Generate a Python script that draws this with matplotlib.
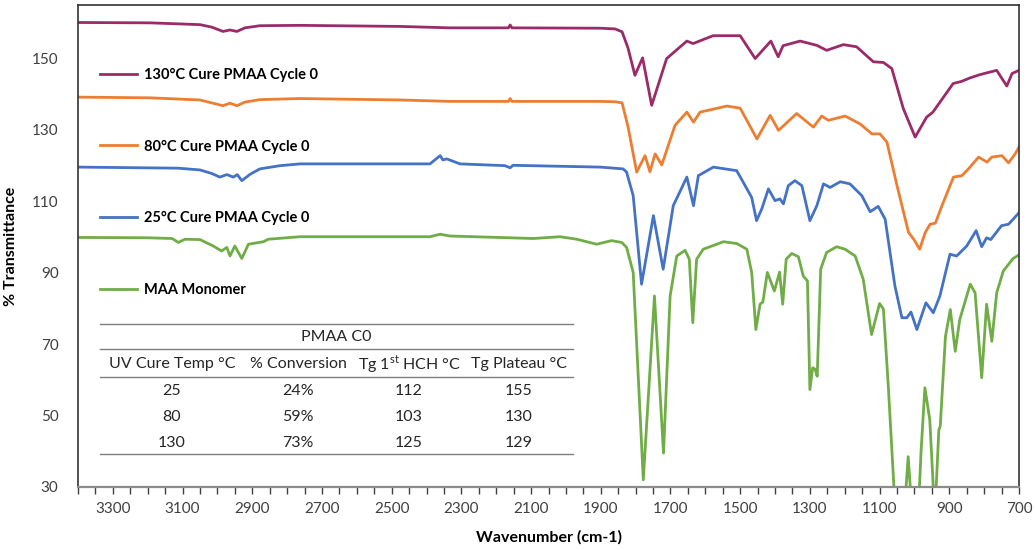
import matplotlib
matplotlib.use("Agg")
import matplotlib.pyplot as plt
from matplotlib.ticker import MultipleLocator, FixedLocator

plt.rcParams['font.family'] = ['Lato', 'DejaVu Sans']
plt.rcParams['mathtext.fontset'] = 'custom'
plt.rcParams['mathtext.rm'] = 'Lato'

# ---------------- spectra (wavenumber, % transmittance, offset already included) ----------------
wn_130 = [3400, 3193, 3050, 3016, 2984, 2964, 2944, 2921, 2878, 2763, 2476, 2333, 2165, 2160, 2155,
          1902, 1859, 1839, 1822, 1802, 1780, 1754, 1711, 1653, 1635, 1578, 1500, 1457, 1412, 1391,
          1377, 1328, 1280, 1252, 1204, 1166, 1118, 1089, 1065, 1032, 998, 965, 947, 889, 865, 840,
          812, 764, 735, 720, 700]
t_130 = [160.1, 160.0, 159.5, 158.8, 157.6, 158.0, 157.6, 158.6, 159.2, 159.3, 159.0, 158.6, 158.6, 159.4, 158.6,
         158.5, 158.3, 157.5, 153.0, 145.3, 150.2, 136.9, 150.0, 154.9, 154.2, 156.4, 156.4, 150.0, 154.9, 150.5,
         153.6, 154.9, 153.7, 152.3, 153.9, 153.3, 149.1, 148.9, 147.2, 136.0, 128.0, 133.6, 135.0, 143.0, 143.6, 144.6,
         145.5, 146.7, 142.3, 145.8, 146.7]

wn_80 = [3400, 3193, 3050, 2984, 2964, 2944, 2921, 2878, 2763, 2476, 2333, 2165, 2160, 2155,
         1902, 1859, 1839, 1822, 1797, 1773, 1759, 1744, 1725, 1687, 1653, 1634, 1615, 1538, 1500,
         1452, 1414, 1390, 1338, 1290, 1266, 1247, 1199, 1156, 1122, 1099, 1079, 1050, 1017, 1002,
         985, 969, 955, 940, 921, 888, 864, 845, 816, 792, 778, 749, 730, 711, 700]
t_80 = [139.2, 139.0, 138.4, 136.8, 137.5, 136.8, 137.8, 138.5, 138.8, 138.4, 138.0, 138.0, 138.8, 138.0,
        138.0, 137.9, 137.6, 131.0, 118.2, 122.8, 118.3, 123.3, 120.2, 131.3, 135.0, 132.2, 135.0, 136.7, 136.1,
        127.5, 134.1, 129.9, 134.6, 130.8, 133.9, 132.7, 133.9, 131.7, 128.9, 128.9, 126.6, 114.4, 101.3, 99.4,
        96.6, 101.3, 103.6, 103.9, 108.8, 116.8, 117.2, 119.1, 122.4, 121.0, 122.4, 122.8, 120.8, 123.3, 125.2]

wn_25 = [3400, 3113, 3050, 3016, 2993, 2973, 2954, 2943, 2930, 2906, 2878, 2820, 2763, 2390, 2361, 2353,
         2342, 2304, 2175, 2160, 2152, 1902, 1836, 1826, 1807, 1783, 1749, 1721, 1692, 1653, 1634, 1620,
         1577, 1510, 1491, 1467, 1453, 1438, 1419, 1400, 1386, 1376, 1362, 1343, 1323, 1300, 1280, 1261,
         1242, 1213, 1185, 1151, 1127, 1104, 1084, 1056, 1036, 1022, 1010, 993, 967, 946, 927, 898, 879,
         850, 823, 807, 793, 781, 750, 730, 700]
t_25 = [119.6, 119.3, 118.8, 117.8, 116.8, 117.5, 116.8, 117.5, 115.8, 117.6, 119.1, 120.0, 120.5, 120.5, 122.8, 121.6,
        121.9, 120.5, 120.0, 119.4, 120.1, 119.6, 119.1, 118.2, 111.6, 86.8, 106.0, 91.0, 108.8, 116.8, 108.8, 117.2,
        119.6, 118.6, 115.3, 111.1, 104.6, 107.9, 113.5, 110.2, 110.7, 109.3, 114.4, 115.8, 114.4, 104.6, 108.8, 114.9,
        113.9, 115.5, 114.9, 111.6, 107.1, 108.6, 105.0, 86.3, 77.4, 77.4, 79.0, 74.1, 81.6, 78.8, 83.5, 95.2, 94.7,
        97.5, 101.8, 97.3, 99.8, 99.3, 103.2, 103.6, 106.8]

wn_maa = [3400, 3200, 3130, 3112, 3093, 3050, 3012, 2988, 2973, 2964, 2950, 2930, 2911, 2868, 2854, 2763,
          2390, 2361, 2333, 2093, 2017, 1969, 1912, 1869, 1840, 1826, 1807, 1778, 1746, 1720, 1701, 1682,
          1658, 1646, 1636, 1625, 1606, 1548, 1510, 1481, 1467, 1455, 1443, 1435, 1422, 1402, 1387, 1378,
          1368, 1352, 1333, 1319, 1307, 1300, 1292, 1285, 1279, 1269, 1252, 1223, 1199, 1170, 1147, 1123,
          1100, 1089, 1075, 1056, 1045, 1032, 1024, 1018, 1012, 1000, 988, 981, 970, 956, 946, 940, 930,
          926, 911, 897, 883, 870, 840, 826, 807, 793, 778, 764, 745, 717, 700]
t_maa = [99.9, 99.8, 99.6, 98.5, 99.4, 99.3, 97.5, 96.1, 97.1, 94.7, 97.5, 94.0, 98.0, 98.7, 99.4, 100.1,
         100.1, 100.8, 100.3, 99.6, 100.1, 99.4, 98.0, 99.0, 98.5, 97.1, 90.1, 32.0, 83.5, 39.5, 83.5, 94.7,
         96.3, 93.8, 76.0, 93.8, 96.6, 98.7, 98.2, 96.6, 90.1, 74.1, 81.2, 81.8, 90.1, 84.9, 90.2, 81.2,
         93.8, 95.4, 94.5, 89.1, 87.7, 57.3, 63.4, 63.0, 61.0, 91.0, 95.7, 97.3, 96.6, 94.7, 88.2, 72.7,
         81.4, 79.8, 58.2, 25.0, 15.0, 24.0, 30.0, 38.5, 30.0, 15.0, 25.0, 40.0, 57.8, 48.8, 30.0, 25.0, 46.0,
         47.0, 72.2, 79.7, 68.0, 76.9, 86.8, 84.4, 60.6, 81.2, 70.8, 84.4, 90.5, 94.0, 95.0]

labels = ['130°C Cure PMAA Cycle 0', '80°C Cure PMAA Cycle 0', '25°C Cure PMAA Cycle 0', 'MAA Monomer']
colors = ['#9B2B68', '#ED7D31', '#4472C4', '#70AD47']

# ---------------- summary table ----------------
table_title = 'PMAA C0'
table_header = ['UV Cure Temp °C', '% Conversion', r'Tg 1$^{\mathrm{st}}$ HCH °C', 'Tg Plateau °C']
table_rows = [['25', '24%', '112', '155'],
              ['80', '59%', '103', '130'],
              ['130', '73%', '125', '129']]

W, H = 1035, 550
fig = plt.figure(figsize=(W / 100, H / 100), dpi=100)
ax = fig.add_axes([78 / W, 1 - 487 / H, (1019 - 78) / W, (487 - 5) / H])

series = [(wn_130, t_130), (wn_80, t_80), (wn_25, t_25), (wn_maa, t_maa)]
for (x, y), lab, c in zip(series, labels, colors):
    ax.plot(x, y, color=c, lw=2.0, label=lab, solid_joinstyle='round')

ax.set_xlim(3400, 700)
ax.set_ylim(30, 165)
ax.xaxis.set_major_locator(FixedLocator(list(range(3300, 699, -200))))
ax.xaxis.set_minor_locator(MultipleLocator(50))
ax.yaxis.set_major_locator(FixedLocator(list(range(30, 166, 20))))
ax.tick_params(axis='x', which='both', direction='out', length=5, width=1, color='#404040',
               labelsize=11, labelcolor='#404040', pad=6)
ax.tick_params(axis='y', length=0, labelsize=11, labelcolor='#404040', pad=14)
for s in ax.spines.values():
    s.set_color('#333333')
    s.set_linewidth(1.2)
ax.spines['bottom'].set_color('#8c8c8c')
ax.spines['bottom'].set_linewidth(1.6)

ax.set_xlabel('Wavenumber (cm-1)', fontsize=11.5, fontweight='bold', labelpad=10)
ax.set_ylabel('% Transmittance', fontsize=11.5, fontweight='bold')
ax.yaxis.set_label_coords(-0.064, 0.5)

ax.legend(loc='upper left', bbox_to_anchor=(0.016, 0.885), frameon=False,
          prop={'weight': 'bold', 'size': 10.5}, labelspacing=3.95,
          handlelength=2.5, handletextpad=0.5, borderpad=0)

# table drawn in pixel positions of the figure
def px(x, y):
    return x / W, 1 - y / H

rule_x = [100 / W, 573 / W]
for yy in [324, 349, 377, 454]:
    fig.add_artist(plt.Line2D(rule_x, [1 - yy / H] * 2, color='#7f7f7f', lw=1.0))
col_x = [172, 298, 409, 519]
fig.text(*px(336, 337), table_title, ha='center', va='center', fontsize=11.5, color='#262626')
for cx, h in zip(col_x, table_header):
    fig.text(*px(cx, 364), h, ha='center', va='center', fontsize=11.5, color='#262626')
for ry, row in zip([391, 417, 443], table_rows):
    for cx, v in zip(col_x, row):
        fig.text(*px(cx, ry), v, ha='center', va='center', fontsize=11.5, color='#262626')

fig.savefig('out.png', dpi=100)
